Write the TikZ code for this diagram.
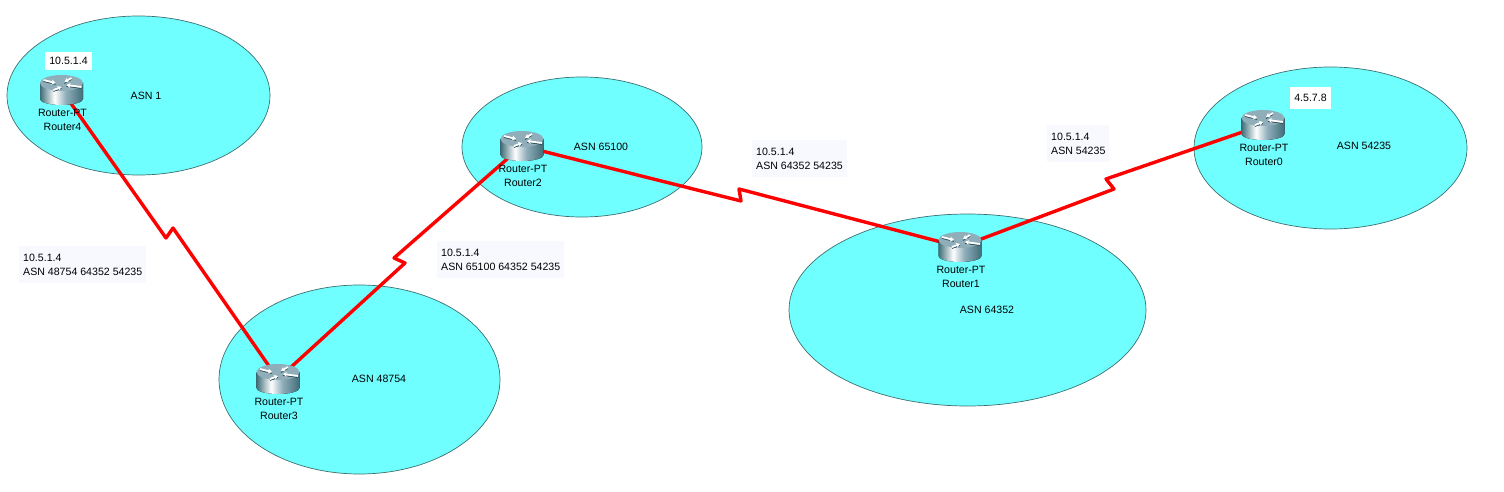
\documentclass[tikz,border=0pt]{standalone}
\usepackage{fontspec}
\setmainfont{Liberation Sans}
\usetikzlibrary{shapes.geometric,positioning,arrows.meta}
\definecolor{asncyan}{HTML}{6FFFFF}
\definecolor{asnedge}{HTML}{3E6F70}
\definecolor{notebg}{HTML}{F7F9FF}
\definecolor{rttop}{HTML}{8FAEBA}
\definecolor{rtdark}{HTML}{3F6D78}
\pgfdeclarehorizontalshading{rtbody}{100bp}{
  color(0bp)=(rtdark); color(25bp)=(rtdark); color(42bp)=(white);
  color(55bp)=(rttop); color(75bp)=(rtdark); color(100bp)=(rtdark)}
\tikzset{
  asn/.style={ellipse,draw=asnedge,fill=asncyan,line width=.7pt,inner sep=0pt},
  asntext/.style={font=\fontsize{10.6}{12}\selectfont,inner sep=0pt},
  note/.style={fill=notebg,anchor=north west,align=left,inner sep=4pt,minimum height=37pt,
    font=\fontsize{10.6}{14}\selectfont},
  ipbox/.style={fill=white,inner sep=0pt,font=\fontsize{10.6}{12}\selectfont},
  rtnode/.style={minimum width=44pt,minimum height=30pt,inner sep=0pt},
  rttext/.style={align=center,inner sep=0pt,font=\fontsize{10.6}{14}\selectfont},
  wan/.style={red,line width=3.4pt,line join=round},
  rtarrow/.style={white,line width=1.8pt,-{Stealth[length=4pt,width=5pt]}},
  rtshadow/.style={rtdark!70!black,line width=.9pt},
  routerpt/.pic={
    \fill[shading=rtbody]
      (-21.5,-7) -- (-21.5,9) arc[start angle=180,end angle=360,x radius=21.5pt,y radius=6pt]
      -- (21.5,-7) -- cycle;
    \fill[rttop] (0,-7) ellipse[x radius=21.5pt,y radius=8pt];
    \foreach \ax/\ay/\bx/\by in {-18/-10/-6/-7,10/-12/3/-8,20/-3/5/-5,-8/0/0/-3}{
      \draw[rtshadow] (\ax,\ay+1.4) -- (\bx,\by+1.4);
      \draw[rtarrow] (\ax,\ay) -- (\bx,\by);
    }
  }
}
\begin{document}
\begin{tikzpicture}[x=1pt,y=-1pt]
  \useasboundingbox (0,0) rectangle (1504,492);

  % areas
  \node[asn,minimum width=263pt,minimum height=159pt] (area4) at (138.5,95.5) {};
  \node[asn,minimum width=240pt,minimum height=140pt] (area2) at (582,147) {};
  \node[asn,minimum width=281pt,minimum height=189pt] (area3) at (359.5,379.5) {};
  \node[asn,minimum width=357pt,minimum height=192pt] (area1) at (967.5,310) {};
  \node[asn,minimum width=273pt,minimum height=162pt] (area0) at (1330.5,148) {};

  \node[asntext] (asn4) at (146,96) {ASN 1};
  \node[asntext] (asn2) at (601,147) {ASN 65100};
  \node[asntext] (asn3) at (379,379) {ASN 48754};
  \node[asntext] (asn1) at (987,310) {ASN 64352};
  \node[asntext] (asn0) at (1364,146) {ASN 54235};

  \node[note] (note4) at (19,246) {10.5.1.4\\ASN 48754 64352 54235};
  \node[note] (note3) at (437,241) {10.5.1.4\\ASN 65100 64352 54235};
  \node[note] (note2) at (752,140) {10.5.1.4\\ASN 64352 54235};
  \node[note] (note1) at (1047,125) {10.5.1.4\\ASN 54235};

  \node[ipbox,minimum width=47pt,minimum height=18pt] (ip4) at (68.5,61) {10.5.1.4};
  \node[ipbox,minimum width=41pt,minimum height=22pt] (ip0) at (1310.5,98) {4.5.7.8};

  \foreach \n/\x/\y in {Router4/61.5/90,Router3/278/379,Router2/522/146,Router1/960/247,Router0/1263/125}
    \node[rtnode] (\n) at (\x,\y) {};

  \coordinate (z4a) at (166,238); \coordinate (z4b) at (173,228);
  \coordinate (z3a) at (405,263); \coordinate (z3b) at (394,258);
  \coordinate (z2a) at (741,201); \coordinate (z2b) at (739,189);
  \coordinate (z1a) at (1114,189); \coordinate (z1b) at (1106,179);

  \draw[wan] (Router4.center) -- (z4a) -- (z4b) -- (Router3.center);
  \draw[wan] (Router3.center) -- (z3a) -- (z3b) -- (Router2.center);
  \draw[wan] (Router2.center) -- (z2a) -- (z2b) -- (Router1.center);
  \draw[wan] (Router1.center) -- (z1a) -- (z1b) -- (Router0.center);

  \foreach \n in {Router4,Router3,Router2,Router1,Router0}{
    \pic at (\n) {routerpt};
    \node[rttext,below=4pt of \n,xshift=1pt] (\n text) {Router-PT\\\n};
  }
\end{tikzpicture}
\end{document}
